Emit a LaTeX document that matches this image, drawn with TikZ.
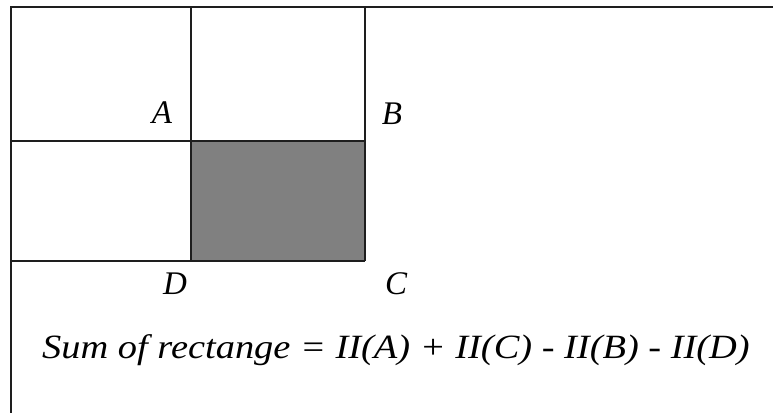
\documentclass[tikz,border=0pt]{standalone}
\usepackage{fontspec}
\setmainfont{Liberation Serif}
\usepackage{tikz}
\usetikzlibrary{positioning}
\definecolor{gridline}{RGB}{30,30,30}
\definecolor{cellgray}{RGB}{128,128,128}

\begin{document}
\begin{tikzpicture}[
      x=1pt, y=-1pt,
      edge/.style={draw=gridline, line width=1.8pt},
      lab/.style={font=\fontsize{33}{35}\selectfont\itshape, inner sep=0pt},
      formula/.style={font=\fontsize{34}{36}\selectfont\itshape, inner sep=0pt, xscale=1.13}
    ]
      \useasboundingbox (0,0) rectangle (773,413);

      % shaded query rectangle
      \fill[cellgray] (191,141) rectangle (365,261);

      % outer frame (open to the right and bottom)
      \draw[edge] (773,7) -- (11,7) -- (11,413);

      % grid
      \draw[edge] (191,7) -- (191,261);
      \draw[edge] (365,7) -- (365,261);
      \draw[edge] (11,141) -- (365,141);
      \draw[edge] (11,261) -- (365,261);

      % corner labels
      \node[lab] (A) at (162,113) {A};
      \node[lab] (B) at (392,114) {B};
      \node[lab] (D) at (175,284) {D};
      \node[lab] (C) at (396,284) {C};

      % formula
      \node[formula] (sum) at (396,350) {Sum of rectange = II(A) + II(C) - II(B) - II(D)};
    \end{tikzpicture}
\end{document}
